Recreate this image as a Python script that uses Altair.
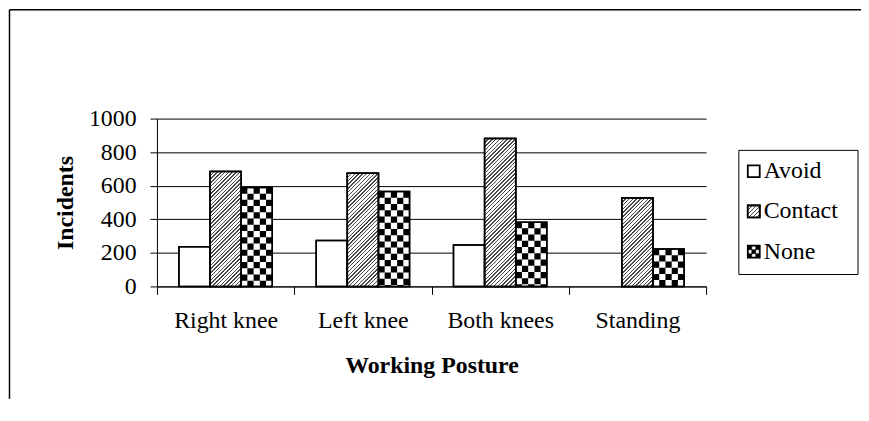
import altair as alt
import pandas as pd

# ---- data ----
postures = ["Right knee", "Left knee", "Both knees", "Standing"]
series = ["Avoid", "Contact", "None"]
avoid = [237, 274, 247, None]
contact = [685, 675, 882, 527]
none_vals = [590, 565, 383, 223]

FONT = "Liberation Serif"
PLOT_W, PLOT_H = 553, 169
Y_MAX = 1000
BAR_W = PLOT_W / len(postures) / 4.412   # width of one sub-band
CELL = BAR_W / 5


def hatch(w, h, period=3.8, frac=0.4, dark="#4a4a4a", light="#ffffff"):
    k = (w + h) / (w * w + h * h)
    n = max(1, round((w + h) / period))
    stops = []
    for i in range(n):
        a, b, c = i / n, (i + frac) / n, (i + 1) / n
        stops += [{"offset": a, "color": dark}, {"offset": b, "color": dark},
                  {"offset": b, "color": light}, {"offset": c, "color": light}]
    return {"gradient": "linear", "x1": 0, "y1": 0, "x2": k * w, "y2": k * h, "stops": stops}


rows = []
for p, a, c, n in zip(postures, avoid, contact, none_vals):
    for s, v in zip(series, [a, c, n]):
        if v is not None:
            rows.append({"posture": p, "series": s, "value": v})
df = pd.DataFrame(rows)
df_contact = df[df.series == "Contact"].copy()
df_contact["grad"] = [hatch(BAR_W, v / Y_MAX * PLOT_H) for v in df_contact.value]
df_none = df[df.series == "None"].copy()

x_axis = alt.Axis(title="Working Posture", labelAngle=0, tickBand="extent", tickSize=8,
                  tickColor="black", domainColor="black", labelFont=FONT, labelFontSize=24,
                  labelColor="black", labelPadding=14, titleFont=FONT, titleFontSize=24,
                  titleFontWeight="bold", titleColor="black", titlePadding=22, grid=False)
y_axis = alt.Axis(title="Incidents", values=[0, 200, 400, 600, 800, 1000], format="d", grid=True,
                  gridColor="black", gridWidth=1, tickSize=7, tickColor="black",
                  domainColor="black", labelFont=FONT, labelFontSize=24, labelColor="black",
                  labelPadding=14, titleFont=FONT, titleFontSize=24, titleFontWeight="bold",
                  titleColor="black", titlePadding=11)

X = alt.X("posture:N", scale=alt.Scale(domain=postures, paddingInner=0, paddingOuter=0), axis=x_axis)
XR = alt.X("posture:N", scale=alt.Scale(domain=postures, paddingInner=0, paddingOuter=0), axis=x_axis,
           bandPosition=0.5)
XO = alt.XOffset("series:N", scale=alt.Scale(domain=series, paddingInner=0, paddingOuter=0.706))
Y = alt.Y("value:Q", scale=alt.Scale(domain=[0, Y_MAX], nice=False), axis=y_axis)

white_bars = alt.Chart(df).mark_bar(fill="white", stroke="black", strokeWidth=1.5).encode(
    x=X, xOffset=XO, y=Y)
hatch_bars = alt.Chart(df_contact).mark_bar(stroke="black", strokeWidth=1.5).encode(
    x=X, xOffset=XO, y=Y, fill=alt.Fill("grad:N", scale=None, legend=None))
checks = []
for i in range(5):
    checks.append(
        alt.Chart(df_none).mark_rule(
            color="black", strokeWidth=CELL, strokeDash=[CELL, CELL],
            strokeDashOffset=(CELL if i % 2 else 0), xOffset=BAR_W + (i - 2) * CELL
        ).encode(x=XR, y=Y, y2=alt.datum(0))
    )
outline = alt.Chart(df).mark_bar(fillOpacity=0, stroke="black", strokeWidth=1.5).encode(
    x=X, xOffset=XO, y=Y)

main = alt.layer(white_bars, hatch_bars, *checks, outline)

# ---- legend (drawn from the series list) ----
leg_df = pd.DataFrame({"series": series})
LY = alt.Y("series:N", scale=alt.Scale(type="point", domain=series, range=[53, 134], padding=0), axis=None)
one = pd.DataFrame({"k": [0]})
leg_box = alt.Chart(one).mark_rect(fill="white", stroke="black", strokeWidth=1).encode(
    x=alt.value(586), x2=alt.value(706), y=alt.value(32), y2=alt.value(157))
leg_sq = alt.Chart(leg_df).mark_square(size=144, fill="white", stroke="black", strokeWidth=1.8,
                                       opacity=1).encode(x=alt.value(601), y=LY)
leg_hatch = alt.Chart(leg_df).transform_filter(alt.datum.series == "Contact").mark_square(
    size=144, fill=alt.Gradient(**hatch(12, 12, period=4.0)),
    stroke="black", strokeWidth=1.8, opacity=1).encode(x=alt.value(601), y=LY)
check_path = ("M-1,-1h0.667v0.667h-0.667Z M0.333,-1h0.667v0.667h-0.667Z "
              "M-0.333,-0.333h0.667v0.667h-0.667Z M-1,0.333h0.667v0.667h-0.667Z "
              "M0.333,0.333h0.667v0.667h-0.667Z")
leg_check = alt.Chart(leg_df).transform_filter(alt.datum.series == "None").mark_point(
    shape=check_path, size=144, filled=True, fill="black", stroke="black", strokeWidth=0.5,
    opacity=1).encode(x=alt.value(601), y=LY)
leg_text = alt.Chart(leg_df).mark_text(align="left", baseline="middle", font=FONT, fontSize=24,
                                       color="black").encode(x=alt.value(611), y=LY, text="series:N")
legend = alt.layer(leg_box, leg_sq, leg_hatch, leg_check, leg_text)

# ---- outer frame (decoration) ----
frame_left = alt.Chart(one).mark_rule(color="black", strokeWidth=1.5).encode(
    x=alt.value(-148.5), y=alt.value(-109.5), y2=alt.value(282))
frame_top = alt.Chart(one).mark_rule(color="black", strokeWidth=1.5).encode(
    x=alt.value(-148.5), x2=alt.value(711), y=alt.value(-109.5))

chart = alt.layer(main, legend, frame_left, frame_top).resolve_scale(y="independent").properties(
    width=PLOT_W, height=PLOT_H,
    autosize=alt.AutoSizeParams(type="none"),
    padding={"left": 150, "top": 110, "right": 156, "bottom": 112},
    background="white",
).configure_view(stroke=None)

chart.save("out.html", embed_options={"renderer": "svg", "actions": False})
